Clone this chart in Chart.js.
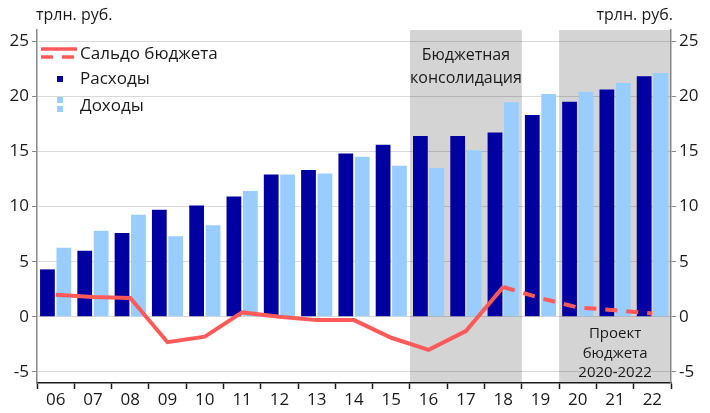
<!DOCTYPE html>
<html>
<head>
<meta charset="utf-8">
<script src="https://cdn.jsdelivr.net/npm/chart.js@4/dist/chart.umd.min.js"></script>
<style>
  html, body { margin: 0; padding: 0; background: #fff; }
  canvas { display: block; }
</style>
</head>
<body>
<canvas id="budgetChart" width="710" height="413"></canvas>
<script>
// === Données (трлн. руб.) ===
const years = ["06", "07", "08", "09", "10", "11", "12", "13", "14", "15", "16", "17", "18", "19", "20", "21", "22"];
const expenses = [4.3, 6.0, 7.6, 9.7, 10.1, 10.9, 12.9, 13.3, 14.8, 15.6, 16.4, 16.4, 16.7, 18.3, 19.5, 20.6, 21.8];
const revenues = [6.25, 7.8, 9.25, 7.3, 8.3, 11.4, 12.9, 13.0, 14.5, 13.7, 13.5, 15.1, 19.45, 20.2, 20.4, 21.2, 22.1];
const balanceFact = [2.0, 1.8, 1.7, -2.3, -1.8, 0.4, 0.0, -0.3, -0.3, -1.9, -3.0, -1.3, 2.7, null, null, null, null];
const balancePlan = [null, null, null, null, null, null, null, null, null, null, null, null, 2.7, 1.7, 0.85, 0.6, 0.3];
const yTicks = [-5, 0, 5, 10, 15, 20, 25];

// zones grisées : [première année, dernière année]
const shadedZones = [["16", "18"], ["20", "22"]];

const FONT = "'Open Sans', 'Noto Sans', sans-serif";
const DARK_BLUE = "#0000a0";
const LIGHT_BLUE = "#99ccff";
const RED = "#ff5a5a";

// Fond gris des périodes
const shadePlugin = {
  id: "shade",
  beforeDraw(chart) {
    const { ctx, chartArea, scales } = chart;
    const x = scales.x;
    const half = (x.getPixelForValue(1) - x.getPixelForValue(0)) / 2;
    ctx.save();
    ctx.fillStyle = "#d4d4d4";
    shadedZones.forEach(([a, b]) => {
      const x0 = x.getPixelForValue(years.indexOf(a)) - half;
      const x1 = x.getPixelForValue(years.indexOf(b)) + half;
      ctx.fillRect(x0, chartArea.top, x1 - x0, chartArea.bottom - chartArea.top);
    });
    ctx.restore();
  }
};

// Textes, légende et unités
const textPlugin = {
  id: "texts",
  afterDraw(chart) {
    const { ctx, scales } = chart;
    const x = scales.x;
    ctx.save();
    ctx.fillStyle = "#1a1a1a";
    ctx.font = "16px " + FONT;
    ctx.textBaseline = "middle";

    ctx.textAlign = "left";
    ctx.fillText("трлн. руб.", 36, 15);
    ctx.textAlign = "right";
    ctx.fillText("трлн. руб.", 673, 15);

    // annotations
    ctx.textAlign = "center";
    const c1 = (x.getPixelForValue(10) + x.getPixelForValue(12)) / 2;
    ctx.fillText("Бюджетная", c1, 55);
    ctx.fillText("консолидация", c1, 78);
    ctx.font = "15px " + FONT;
    const c2 = (x.getPixelForValue(14) + x.getPixelForValue(16)) / 2;
    ctx.fillText("Проект", c2, 334);
    ctx.fillText("бюджета", c2, 354);
    ctx.fillText("2020-2022", c2, 373);

    // légende
    ctx.font = "17px " + FONT;
    ctx.textAlign = "left";
    ctx.strokeStyle = RED;
    ctx.lineWidth = 3.5;
    ctx.beginPath();
    ctx.moveTo(41, 49); ctx.lineTo(77, 49);
    ctx.stroke();
    ctx.setLineDash([12, 9]);
    ctx.beginPath();
    ctx.moveTo(41, 57); ctx.lineTo(77, 57);
    ctx.stroke();
    ctx.setLineDash([]);
    ctx.fillStyle = "#1a1a1a";
    ctx.fillText("Сальдо бюджета", 80, 54);

    ctx.fillStyle = DARK_BLUE;
    ctx.fillRect(57, 76, 6, 6);
    ctx.fillStyle = "#1a1a1a";
    ctx.fillText("Расходы", 80, 79);

    ctx.fillStyle = LIGHT_BLUE;
    ctx.fillRect(57, 97, 6, 6);
    ctx.fillRect(57, 106, 6, 6);
    ctx.fillStyle = "#1a1a1a";
    ctx.fillText("Доходы", 80, 106);
    ctx.restore();
  }
};

const yAxisBase = {
  type: "linear",
  min: -6,
  max: 26,
  afterBuildTicks(scale) {
    scale.ticks = yTicks.map(v => ({ value: v }));
  },
  border: { color: "#888", width: 1.5 },
  ticks: {
    color: "#1a1a1a",
    font: { family: FONT, size: 17 },
    padding: 3
  }
};

new Chart(document.getElementById("budgetChart"), {
  data: {
    labels: years,
    datasets: [
      {
        type: "line",
        label: "Сальдо бюджета",
        data: balanceFact,
        borderColor: RED,
        borderWidth: 4,
        pointRadius: 0,
        tension: 0,
        order: 0
      },
      {
        type: "line",
        label: "Сальдо бюджета (проект)",
        data: balancePlan,
        borderColor: RED,
        borderWidth: 4,
        borderDash: [12, 9],
        pointRadius: 0,
        tension: 0,
        order: 0
      },
      {
        type: "bar",
        label: "Расходы",
        data: expenses,
        backgroundColor: DARK_BLUE,
        categoryPercentage: 0.88,
        barPercentage: 0.9,
        order: 1
      },
      {
        type: "bar",
        label: "Доходы",
        data: revenues,
        backgroundColor: LIGHT_BLUE,
        categoryPercentage: 0.88,
        barPercentage: 0.9,
        order: 1
      }
    ]
  },
  options: {
    responsive: false,
    animation: false,
    devicePixelRatio: 1,
    layout: { padding: { top: 30, left: 0, right: 0, bottom: 0 } },
    plugins: {
      legend: { display: false },
      tooltip: { enabled: false }
    },
    scales: {
      x: {
        type: "category",
        offset: true,
        afterFit(scale) { scale.height = 30; },
        grid: {
          offset: true,
          drawOnChartArea: false,
          tickLength: 6,
          tickColor: "#1a1a1a",
          tickWidth: 1.5
        },
        border: { color: "#1a1a1a", width: 1.5 },
        ticks: {
          color: "#1a1a1a",
          font: { family: FONT, size: 17 },
          padding: 1,
          maxRotation: 0
        }
      },
      y: Object.assign({}, yAxisBase, {
        position: "left",
        afterFit(scale) { scale.width = 37; },
        grid: {
          color: "rgba(0,0,0,0.15)",
          tickColor: "#888",
          tickLength: 5,
          lineWidth: 1
        }
      }),
      y2: Object.assign({}, yAxisBase, {
        position: "right",
        afterFit(scale) { scale.width = 39; },
        grid: {
          drawOnChartArea: false,
          tickColor: "#888",
          tickLength: 5
        }
      })
    }
  },
  plugins: [shadePlugin, textPlugin]
});
</script>
</body>
</html>
